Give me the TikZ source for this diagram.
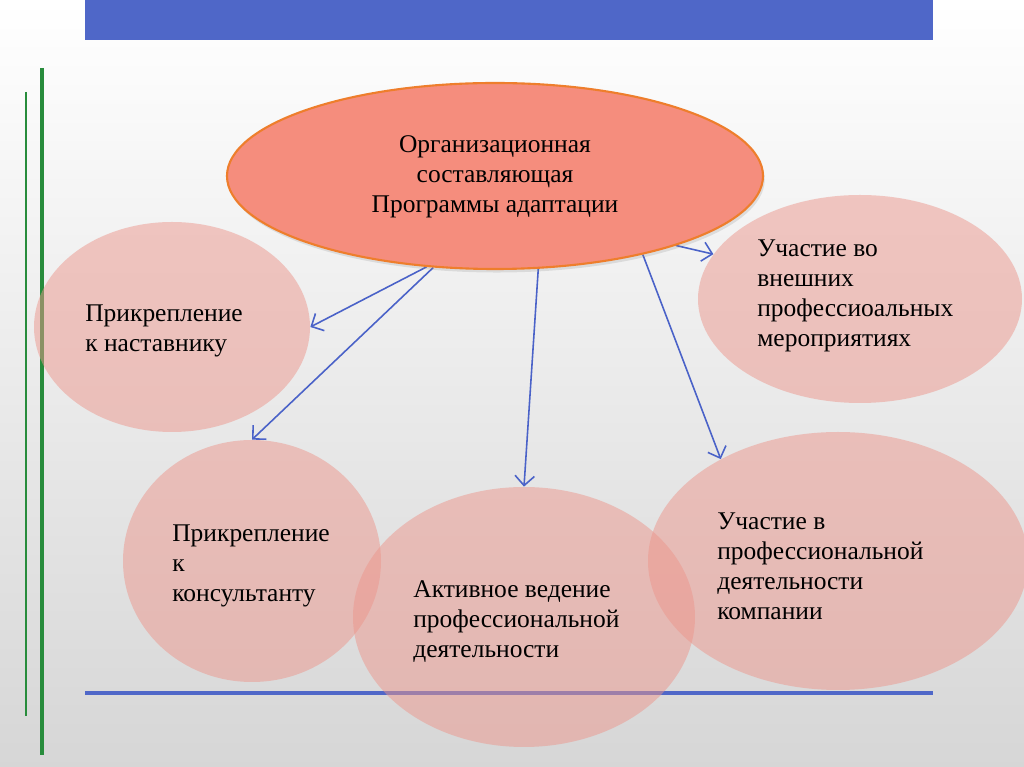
\documentclass[tikz,border=0pt]{standalone}
\usepackage{fontspec}
\setmainfont{Liberation Serif}
\usepackage{tikz}
\usetikzlibrary{shapes}
\usetikzlibrary{shapes.geometric}
\usetikzlibrary{arrows.meta}
\usetikzlibrary{shadows}
\definecolor{barblue}{RGB}{79,103,200}
\definecolor{linegreen}{RGB}{40,140,60}
\definecolor{topfill}{RGB}{245,141,125}
\definecolor{topdraw}{RGB}{238,126,44}
\definecolor{softfill}{RGB}{236,150,140}
\definecolor{arrowblue}{RGB}{74,98,200}
\pgfdeclarelayer{bglayer}
\pgfdeclarelayer{edgelayer}
\pgfdeclarelayer{nodelayer}
\pgfsetlayers{bglayer,edgelayer,nodelayer,main}
\tikzstyle{none}=[inner sep=0pt]
\tikzstyle{main oval}=[ellipse, inner sep=0pt, fill=topfill, draw=topdraw, line width=1.2pt, drop shadow={shadow xshift=1pt, shadow yshift=-2pt, opacity=0.2}]
\tikzstyle{oval}=[ellipse, inner sep=0pt, fill=softfill, fill opacity=0.5]
\tikzstyle{txt}=[inner sep=0pt, align=left, anchor=west, font=\fontsize{14.5}{17.1}\selectfont]
\tikzstyle{link}=[-{Straight Barb[length=5.5pt, width=11pt]}, draw=arrowblue, line width=0.9pt]

\begin{document}
\begin{tikzpicture}
	\useasboundingbox (0, 0) rectangle (20.48, -15.34);
	\begin{pgfonlayer}{bglayer}
		\shade [top color=white, bottom color=black!16] (0, 0) rectangle (20.48, -15.34);
		\fill [barblue] (1.7, 0) rectangle (18.66, -0.8);
		\draw [linegreen, line width=1.4pt] (0.52, -1.84) -- (0.52, -14.32);
		\draw [linegreen, line width=2.8pt] (0.84, -1.36) -- (0.84, -15.1);
		\draw [barblue, line width=2.2pt] (1.7, -13.86) -- (18.66, -13.86);
	\end{pgfonlayer}
	\begin{pgfonlayer}{nodelayer}
		\node [style=main oval, minimum width=10.72cm, minimum height=3.72cm] (0) at (9.9, -3.52) {};
		\node [style=oval, minimum width=5.52cm, minimum height=4.2cm] (1) at (3.44, -6.54) {};
		\node [style=oval, minimum width=6.48cm, minimum height=4.16cm] (2) at (17.2, -5.98) {};
		\node [style=oval, minimum width=5.16cm, minimum height=4.84cm] (3) at (5.04, -11.22) {};
		\node [style=oval, minimum width=6.84cm, minimum height=5.2cm] (4) at (10.48, -12.34) {};
		\node [style=oval, minimum width=7.6cm, minimum height=5.16cm] (5) at (16.76, -11.22) {};
		\node [style=txt, align=center, anchor=center] (6) at (9.9, -3.54) {Организационная\\составляющая\\Программы адаптации};
		\node [style=txt] (7) at (1.7, -6.61) {Прикрепление\\к наставнику};
		\node [style=txt] (8) at (15.14, -5.92) {Участие во\\внешних\\профессиоальных\\мероприятиях};
		\node [style=txt] (9) at (3.44, -11.32) {Прикрепление\\к\\консультанту};
		\node [style=txt] (10) at (8.26, -12.43) {Активное ведение\\профессиональной\\деятельности};
		\node [style=txt] (11) at (14.34, -11.32) {Участие в\\профессиональной\\деятельности\\компании};
	\end{pgfonlayer}
	\begin{pgfonlayer}{edgelayer}
		\draw [style=link](0.-127.6) to (1.0);
		\draw [style=link](0.-124) to (3.90);
		\draw [style=link](0.-65.7) to (4.90);
		\draw [style=link](0.-28.7) to (5.139.8);
		\draw [style=link](0.-21.3) to (2.163.5);
	\end{pgfonlayer}
\end{tikzpicture}
\end{document}
